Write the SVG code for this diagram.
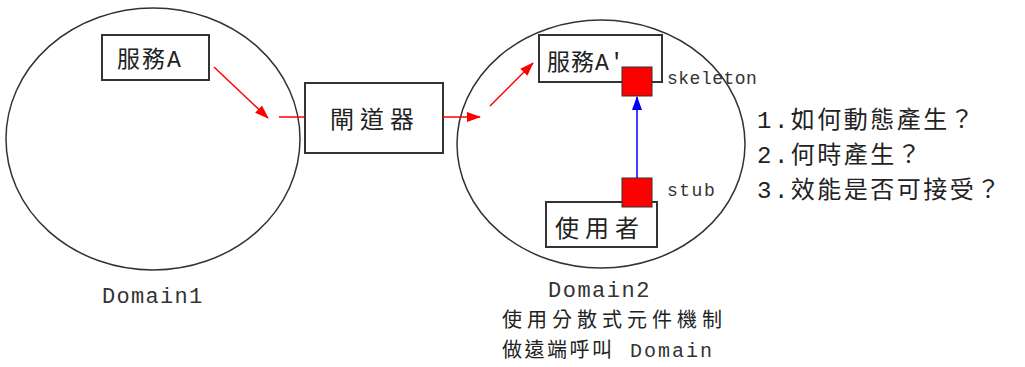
<svg xmlns="http://www.w3.org/2000/svg" width="1025" height="367" viewBox="0 0 1025 367">
<style>
.dom{fill:none;stroke:#333;stroke-width:1.5}
.box{fill:#fff;stroke:#333;stroke-width:2}
.cjk{font-family:"Liberation Mono","Noto Sans CJK TC",monospace;fill:#222}
.lat{font-family:"Liberation Mono",monospace;fill:#333}
.red{stroke:#f00;stroke-width:1.5;fill:none}
.sq{fill:#f00;stroke:#333;stroke-width:1}
</style>
<defs>
<marker id="ar" markerWidth="14" markerHeight="10" refX="13" refY="5" orient="auto" markerUnits="userSpaceOnUse">
<path d="M0,0 L14,5 L0,10 Z" fill="#f00"/>
</marker>
<marker id="ab" markerWidth="14" markerHeight="10" refX="13" refY="5" orient="auto" markerUnits="userSpaceOnUse">
<path d="M0,0 L14,5 L0,10 Z" fill="#00f"/>
</marker>
</defs>
<rect width="1025" height="367" fill="#fff"/>
<g id="domain1">
<ellipse class="dom" cx="153" cy="139" rx="147" ry="131"/>
<text class="lat" x="102" y="303" font-size="22" letter-spacing="1.3">Domain1</text>
</g>
<g id="domain2">
<ellipse class="dom" cx="601" cy="144" rx="144" ry="124"/>
<text class="lat" x="548" y="297" font-size="22" letter-spacing="1.5">Domain2</text>
</g>
<g id="serviceA">
<rect class="box" x="102" y="35" width="107" height="45"/>
<text class="cjk" x="117" y="67" font-size="23" letter-spacing="2">服務A</text>
</g>
<g id="gateway">
<rect class="box" x="305" y="83" width="138" height="70"/>
<text class="cjk" x="330" y="128" font-size="24" letter-spacing="6">閘道器</text>
</g>
<g id="serviceA2">
<rect class="box" x="539" y="35" width="123" height="47"/>
<text class="cjk" x="547" y="70" font-size="23" letter-spacing="1">服務A'</text>
</g>
<g id="user">
<rect class="box" x="546" y="202" width="111" height="45"/>
<text class="cjk" x="555" y="237" font-size="24" letter-spacing="6">使用者</text>
</g>
<g id="skeleton">
<rect class="sq" x="622" y="67" width="30" height="29"/>
<text class="lat" x="667" y="84" font-size="18" letter-spacing="0.5">skeleton</text>
</g>
<g id="stub">
<rect class="sq" x="622" y="178" width="30" height="29"/>
<text class="lat" x="667" y="196" font-size="18" letter-spacing="1.5">stub</text>
</g>
<g id="connectors">
<line class="red" x1="214" y1="67" x2="268" y2="118" marker-end="url(#ar)"/>
<line class="red" x1="279" y1="117" x2="305" y2="117"/>
<line class="red" x1="443" y1="117" x2="480" y2="117" marker-end="url(#ar)"/>
<line class="red" x1="490" y1="106" x2="533" y2="63" marker-end="url(#ar)"/>
<line x1="637" y1="178" x2="637" y2="97" stroke="#00f" stroke-width="1.5" marker-end="url(#ab)"/>
</g>
<g id="notes">
<text class="cjk" x="757" y="128" font-size="24" letter-spacing="2.5">1.如何動態產生？</text>
<text class="cjk" x="757" y="163" font-size="24" letter-spacing="2.5">2.何時產生？</text>
<text class="cjk" x="757" y="198" font-size="24" letter-spacing="2.5">3.效能是否可接受？</text>
<text class="cjk" x="502" y="327" font-size="20" letter-spacing="5">使用分散式元件機制</text>
<text class="cjk" x="502" y="357" font-size="20" letter-spacing="2.5">做遠端呼叫<tspan class="lat" x="630" letter-spacing="2">Domain</tspan></text>
</g>
</svg>
